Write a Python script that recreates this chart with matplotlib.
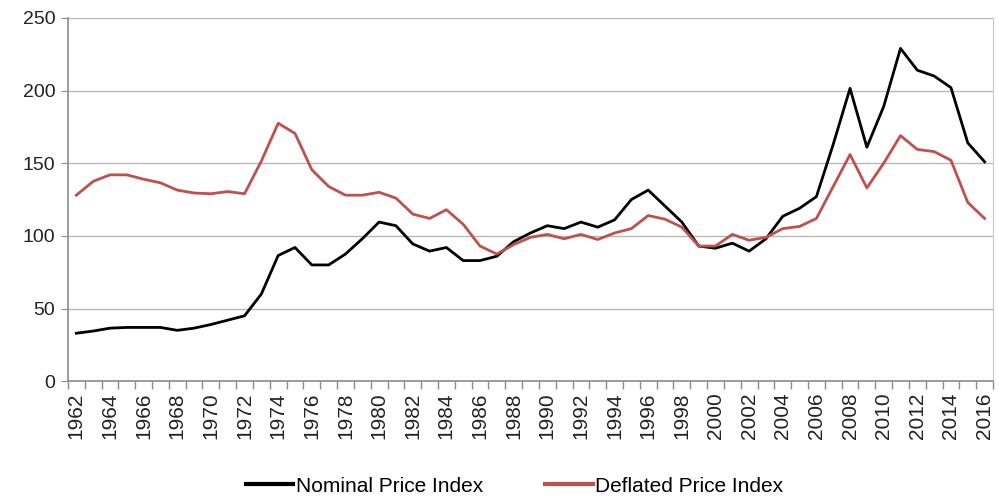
import numpy as np
import matplotlib
matplotlib.use('Agg')
import matplotlib.pyplot as plt

plt.rcParams['font.family'] = ['Liberation Sans', 'DejaVu Sans']

years = list(range(1962, 2017))

nominal = [33, 34.5, 36.5, 37, 37, 37, 35, 36.5, 39, 42, 45, 60, 86.5, 92,
           80, 80, 87.5, 98, 109.5, 107, 94.5, 89.5, 92, 83, 83, 86,
           96, 102, 107, 105, 109.5, 106, 111, 125, 131.5, 120.5, 109.5,
           93, 91.5, 95, 89.5, 98, 113.5, 119, 127, 163, 201.5, 161, 189,
           229, 214, 210, 202, 164, 151]

deflated = [128, 137.5, 142, 142, 139, 136.5, 131.5, 129.5, 129, 130.5, 129,
            151.5, 177.5, 170.5, 145.5, 134, 128, 128, 130, 126, 115, 112,
            118, 108, 93, 87.5, 94, 99, 101, 98, 101, 97.5, 102, 105, 114,
            111.5, 106, 93, 93, 101, 97, 99, 105, 106.5, 112, 134, 156,
            133, 150, 169, 159.5, 158, 152, 123, 112]

fig = plt.figure(figsize=(9.99, 4.97), dpi=100)
ax = fig.add_axes([0.068, 0.233, 0.926, 0.731])

ax.plot(years, nominal, color='black', lw=2.0, label='Nominal Price Index')
ax.plot(years, deflated, color='#c0504d', lw=2.0, label='Deflated Price Index')

ax.set_xlim(1961.5, 2016.5)
ax.set_ylim(0, 250)
ax.set_yticks(range(0, 251, 50))
ax.yaxis.grid(True, color='#b8b8b8', lw=1.0)
ax.set_axisbelow(True)

# category style axis: tick marks between years, labels on even years
ax.set_xticks(years[::2])
ax.set_xticklabels([str(y) for y in years[::2]], rotation=90)
ax.set_xticks(np.arange(1961.5, 2017, 1), minor=True)
ax.tick_params(axis='x', which='major', length=0, pad=8, labelsize=15, colors='#222222')
ax.tick_params(axis='x', which='minor', length=6, color='#8c8c8c', width=1)
ax.tick_params(axis='y', length=5, color='#8c8c8c', labelsize=14, colors='#222222', pad=4)

for side in ['left', 'bottom']:
    ax.spines[side].set_color('#8c8c8c')
    ax.spines[side].set_linewidth(1.2)
ax.spines['right'].set_color('#c8c8c8')
ax.spines['top'].set_visible(False)

leg = fig.legend(loc='center', bbox_to_anchor=(0.515, 0.022), ncol=2, frameon=False,
                 fontsize=15, handlelength=2.3, handletextpad=0.1, columnspacing=3.0,
                 borderpad=0, borderaxespad=0)
for line in leg.get_lines():
    line.set_linewidth(3)

fig.savefig('out.png', dpi=100)
